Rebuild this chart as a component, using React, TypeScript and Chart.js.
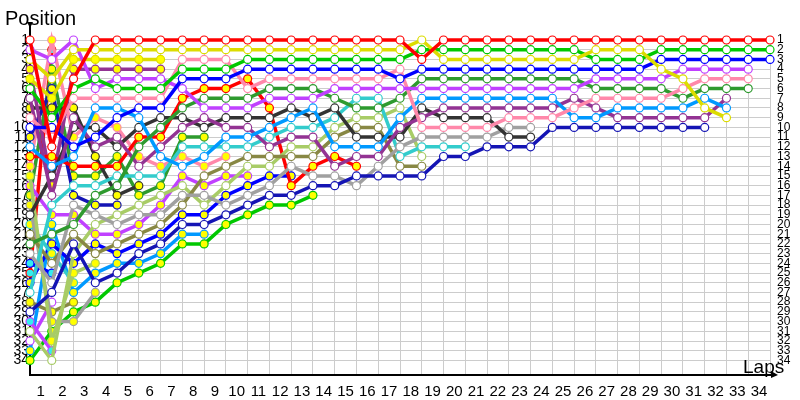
import React, { useEffect, useRef } from "react";
import { Chart, registerables } from "chart.js";

Chart.register(...registerables);

// ---- axis labels ----
const lapLabels = [1, 2, 3, 4, 5, 6, 7, 8, 9, 10, 11, 12, 13, 14, 15, 16, 17, 18, 19, 20, 21, 22, 23, 24, 25, 26, 27, 28, 29, 30, 31, 32, 33, 34];
const positionLabels = [1, 2, 3, 4, 5, 6, 7, 8, 9, 10, 11, 12, 13, 14, 15, 16, 17, 18, 19, 20, 21, 22, 23, 24, 25, 26, 27, 28, 29, 30, 31, 32, 33, 34];

// ---- positions per lap (index 0 = start grid) ----
const RW = [1, 12, 5, 1, 1, 1, 1, 1, 1, 1, 1, 1, 1, 1, 1, 1, 1, 1, 3, 1, 1, 1, 1, 1, 1, 1, 1, 1, 1, 1, 1, 1, 1, 1, 1];
const YW = [3, 5, 2, 2, 2, 2, 2, 2, 2, 2, 2, 2, 2, 2, 2, 2, 2, 2, 1, 3, 3, 3, 3, 3, 3, 3, 2, 2, 2, 4, 5, 8, 9];
const GW = [6, 9, 6, 5, 6, 6, 6, 4, 4, 4, 3, 3, 3, 3, 3, 3, 3, 3, 2, 2, 2, 2, 2, 2, 2, 2, 3, 3, 3, 2, 2, 2, 2, 2, 2];
const BW = [10, 10, 12, 11, 9, 8, 8, 5, 5, 5, 4, 4, 4, 4, 4, 4, 4, 5, 4, 4, 4, 4, 4, 4, 4, 4, 4, 4, 4, 3, 3, 3, 3, 3, 3];
const MW = [2, 3, 1, 6, 5, 5, 5, 6, 8, 8, 8, 7, 7, 7, 6, 6, 6, 6, 6, 6, 6, 6, 6, 6, 6, 6, 5, 5, 5, 5, 4, 4, 4, 4];
const PW = [9, 11, 7, 7, 7, 7, 7, 3, 3, 3, 6, 5, 5, 5, 5, 5, 5, 4, 10, 10, 10, 10, 9, 9, 9, 8, 7, 7, 7, 7, 6, 5, 5, 5];
const DGW = [22, 21, 20, 17, 16, 12, 10, 8, 7, 7, 7, 6, 6, 6, 7, 8, 8, 7, 5, 5, 5, 5, 5, 5, 5, 5, 6, 6, 6, 6, 7, 6, 6, 6];
const LBW = [12, 14, 13, 8, 8, 9, 13, 14, 13, 11, 11, 10, 9, 8, 12, 12, 12, 9, 7, 7, 7, 7, 7, 7, 7, 9, 9, 8, 8, 8, 8, 7, 8];
const DPW = [7, 17, 9, 12, 11, 14, 12, 10, 9, 10, 10, 12, 11, 11, 14, 13, 13, 10, 9, 8, 8, 8, 8, 8, 8, 7, 8, 9, 9, 9, 9, 9, 7];
const DBW = [29, 27, 22, 26, 25, 23, 22, 20, 20, 19, 18, 17, 17, 16, 16, 15, 15, 15, 15, 13, 13, 12, 12, 12, 10, 10, 10, 10, 10, 10, 10, 10];
const KW = [19, 15, 10, 10, 12, 10, 9, 9, 10, 9, 9, 9, 8, 9, 8, 11, 11, 11, 8, 9, 9, 9, 11, 11];
const LGW = [23, 26, 18, 19, 20, 19, 19, 17, 17, 18, 17, 16, 14, 15, 15, 16, 14, 12, 11, 11, 11, 11, 10, 10];
const CW = [27, 18, 16, 16, 15, 15, 15, 12, 12, 12, 12, 11, 10, 10, 9, 7, 7, 13, 12, 12, 12];
const OW = [21, 24, 21, 23, 22, 21, 20, 18, 15, 14, 13, 13, 13, 13, 11, 10, 10, 14, 14];
const YGW = [31, 34, 23, 20, 19, 18, 17, 16, 18, 16, 14, 14, 12, 12, 10, 9, 9, 8, 13];
const RY = [13, 13, 14, 14, 14, 11, 11, 7, 6, 6, 5, 8, 16, 14, 13, 14];
const YY = [5, 7, 3, 3, 3, 3, 3];
const DPY = [4, 16, 4, 4, 4, 4, 4];
const KY = [8, 8, 8, 13, 17, 16];
const DBY = [11, 6, 17, 18, 18];
const PY = [14, 1, 11, 9, 10, 13, 14, 13, 14, 13];
const YGY = [15, 32, 25, 24];
const MY = [16, 19, 19, 21, 21, 20, 18, 15, 16, 15, 15];
const DGY = [17, 4, 15, 15, 13, 17, 16, 11, 11];
const LGY = [18, 30, 30, 27];
const CY = [20, 23, 26];
const BC = [24, 25];
const RC = [25, 2];
const BY = [26, 22, 24, 22, 23, 22, 21, 19, 19, 17, 16, 15, 15];
const OY = [28, 29, 28];
const MC = [30, 33];
const MW2 = [32, 28];
const LBY = [33, 20, 27, 25, 24, 24, 23, 21, 21];
const GY = [34, 31, 29, 28, 26, 25, 24, 22, 22, 20, 19, 18, 18, 17];

// ---- styles ----
const RED = "#ff0000";
const YELLOW = "#dcdc00";
const GREEN = "#00c800";
const BLUE = "#0000ff";
const MAGENTA = "#c040ff";
const PINK = "#ff88aa";
const DKGREEN = "#2e9a2e";
const LTBLUE = "#0099ff";
const DKPURPLE = "#933393";
const DKBLUE = "#1414b4";
const DKGREY = "#333333";
const LTGREY = "#a0a0a0";
const CYAN = "#33cccc";
const OLIVE = "#888844";
const YGREEN = "#a8cc66";
const WHITE = "#ffffff";
const YFILL = "#ffff00";
const CFILL = "#33eeee";

const drivers = [
  { pos: RW, color: RED, fill: WHITE },
  { pos: YW, color: YELLOW, fill: WHITE },
  { pos: GW, color: GREEN, fill: WHITE },
  { pos: BW, color: BLUE, fill: WHITE },
  { pos: MW, color: MAGENTA, fill: WHITE },
  { pos: PW, color: PINK, fill: WHITE },
  { pos: DGW, color: DKGREEN, fill: WHITE },
  { pos: LBW, color: LTBLUE, fill: WHITE },
  { pos: DPW, color: DKPURPLE, fill: WHITE },
  { pos: DBW, color: DKBLUE, fill: WHITE },
  { pos: KW, color: DKGREY, fill: WHITE },
  { pos: LGW, color: LTGREY, fill: WHITE },
  { pos: CW, color: CYAN, fill: WHITE },
  { pos: OW, color: OLIVE, fill: WHITE },
  { pos: YGW, color: YGREEN, fill: WHITE },
  { pos: RY, color: RED, fill: YFILL },
  { pos: YY, color: YELLOW, fill: YFILL },
  { pos: DPY, color: DKPURPLE, fill: YFILL },
  { pos: KY, color: DKGREY, fill: YFILL },
  { pos: DBY, color: DKBLUE, fill: YFILL },
  { pos: PY, color: PINK, fill: YFILL },
  { pos: YGY, color: YGREEN, fill: YFILL },
  { pos: MY, color: MAGENTA, fill: YFILL },
  { pos: DGY, color: DKGREEN, fill: YFILL },
  { pos: LGY, color: LTGREY, fill: YFILL },
  { pos: CY, color: CYAN, fill: YFILL },
  { pos: BC, color: BLUE, fill: CFILL },
  { pos: RC, color: RED, fill: CFILL },
  { pos: BY, color: BLUE, fill: YFILL },
  { pos: OY, color: OLIVE, fill: YFILL },
  { pos: MC, color: MAGENTA, fill: CFILL },
  { pos: MW2, color: MAGENTA, fill: WHITE },
  { pos: LBY, color: LTBLUE, fill: YFILL },
  { pos: GY, color: GREEN, fill: YFILL },
];

const FONT = "'Liberation Sans', Arial, sans-serif";

const decor = {
  id: "decor",
  beforeDatasetsDraw(chart: any) {
    const { ctx, chartArea: a } = chart;
    ctx.save();
    ctx.strokeStyle = "#000";
    ctx.lineWidth = 2;
    ctx.beginPath();
    ctx.moveTo(a.left, a.top - 16);
    ctx.lineTo(a.left, a.bottom);
    ctx.lineTo(a.right + 4, a.bottom);
    ctx.stroke();
    ctx.fillStyle = "#000";
    ctx.beginPath();
    ctx.moveTo(a.left - 3, a.top - 18);
    ctx.lineTo(a.left + 3, a.top - 18);
    ctx.lineTo(a.left, a.top - 12);
    ctx.closePath();
    ctx.fill();
    ctx.beginPath();
    ctx.moveTo(a.right + 1, a.bottom - 4);
    ctx.lineTo(a.right + 8, a.bottom);
    ctx.lineTo(a.right + 1, a.bottom + 3);
    ctx.closePath();
    ctx.fill();
    ctx.restore();
  },
  afterDraw(chart: any) {
    const { ctx, chartArea: a } = chart;
    ctx.save();
    ctx.fillStyle = "#000";
    ctx.textBaseline = "alphabetic";
    ctx.textAlign = "left";
    ctx.font = `20px ${FONT}`;
    ctx.fillText("Position", 5, a.top - 15);
    ctx.font = `19px ${FONT}`;
    ctx.fillText("Laps", a.right - 27, a.bottom - 2);
    ctx.restore();
  },
};

export default function App() {
  const ref = useRef<HTMLCanvasElement>(null);
  useEffect(() => {
    const datasets = drivers.map((d) => ({
      data: d.pos.map((p, lap) => ({ x: lap, y: p })),
      borderColor: d.color,
      backgroundColor: d.color,
      borderWidth: 3.5,
      pointRadius: 4,
      pointBorderWidth: 1.2,
      pointBackgroundColor: d.fill,
      pointBorderColor: d.color,
      tension: 0,
      clip: false as any,
    }));
    const chart = new Chart(ref.current as HTMLCanvasElement, {
      type: "line",
      data: { datasets },
      options: {
        animation: false,
        responsive: false,
        layout: { padding: { top: 40, left: 0, right: 0, bottom: 0 } },
        plugins: { legend: { display: false }, tooltip: { enabled: false } },
        scales: {
          x: {
            type: "linear",
            min: 0,
            max: 34,
            afterFit: (s: any) => {
              s.height = 25;
            },
            grid: { color: "#cccccc", lineWidth: 1, drawTicks: false },
            border: { display: false },
            ticks: {
              stepSize: 1,
              autoSkip: false,
              maxRotation: 0,
              padding: 8,
              labelOffset: -11,
              color: "#000",
              font: { family: FONT, size: 15 },
              callback: (v: any) => (lapLabels.includes(v) ? String(v) : ""),
            },
          },
          y: {
            type: "linear",
            position: "left",
            reverse: true,
            min: 1,
            max: 35.5,
            afterFit: (s: any) => {
              s.width = 30;
            },
            grid: { color: "#cccccc", lineWidth: 1, drawTicks: false },
            border: { display: false },
            ticks: {
              stepSize: 1,
              autoSkip: false,
              padding: 1,
              color: "#000",
              font: { family: FONT, size: 14 },
              callback: (v: any) => (positionLabels.includes(v) ? String(v) : ""),
            },
          },
          y2: {
            type: "linear",
            position: "right",
            reverse: true,
            min: 1,
            max: 35.5,
            afterFit: (s: any) => {
              s.width = 30;
            },
            grid: { display: false, drawTicks: false },
            border: { display: false },
            ticks: {
              stepSize: 1,
              autoSkip: false,
              padding: 7,
              color: "#000",
              font: { family: FONT, size: 12 },
              callback: (v: any) => (positionLabels.includes(v) ? String(v) : ""),
            },
          },
        },
      } as any,
      plugins: [decor],
    });
    return () => chart.destroy();
  }, []);
  return (
    <div style={{ position: "fixed", left: 0, top: 0, width: 800, height: 400, background: "#fff" }}>
      <canvas ref={ref} width={800} height={400} style={{ display: "block" }} />
    </div>
  );
}
